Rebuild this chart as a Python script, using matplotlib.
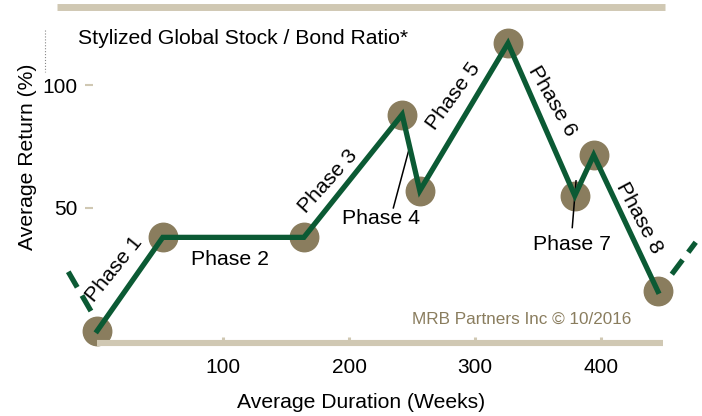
import matplotlib
matplotlib.use('Agg')
import matplotlib.pyplot as plt
from matplotlib.lines import Line2D

plt.rcParams['font.family'] = ['Liberation Sans', 'DejaVu Sans']

# stylized path of the stock / bond ratio
weeks = [0, 52, 164, 242, 256, 326, 379, 394, 445]
ret = [0, 38, 38, 88, 57, 117, 55, 71.5, 16]

# dashed continuation on both ends
lead_x = [-23, -5]
lead_y = [24, 8]
tail_x = [456, 475]
tail_y = [23, 36]

phase_labels = ['Phase 1', 'Phase 2', 'Phase 3', 'Phase 4',
                'Phase 5', 'Phase 6', 'Phase 7', 'Phase 8']
label_x = [13.5, 105, 183, 225, 282.5, 361, 377, 430]
label_y = [25, 29, 61, 45.5, 95.5, 93.5, 35, 46]
label_rot = [51, 0, 48, 0, 54, -60, 0, -62]

xticks = [100, 200, 300, 400]
yticks = [50, 100]

green = '#0b5a34'
khaki = '#8a7d5e'
band = '#d0c8b3'

fig = plt.figure(figsize=(7.02, 4.16), dpi=100)
ax = fig.add_axes([67 / 702, 1 - 343 / 416, 630 / 702, 312 / 416])
ax.set_xlim(-24, 476)
ax.set_ylim(-5, 122)

ax.plot(weeks, ret, 'o', markersize=20.5, color=khaki, clip_on=False, zorder=2)
ax.plot(weeks, ret, '-', color=green, linewidth=3.8, solid_joinstyle='miter',
        clip_on=False, zorder=3)
ax.plot(lead_x, lead_y, '--', color=green, linewidth=3.8, dashes=(3.4, 1.8),
        clip_on=False)
ax.plot(tail_x, tail_y, '--', color=green, linewidth=3.8, dashes=(3.4, 1.8),
        clip_on=False)

for t, x, y, r in zip(phase_labels, label_x, label_y, label_rot):
    ax.text(x, y, t, rotation=r, ha='center', va='center', fontsize=15.3,
            rotation_mode='anchor')

# leader lines for the short phases
ax.plot([247, 235], [73, 50], color='black', linewidth=1.1)
ax.plot([380, 377], [61, 42], color='black', linewidth=1.1)

ax.text(336.5, 4.5, 'MRB Partners Inc \u00a9 10/2016', color=khaki,
        fontsize=12.3, ha='center', va='center')

for s in ['top', 'right']:
    ax.spines[s].set_visible(False)
ax.spines['left'].set_position(('data', -3))
ax.spines['left'].set_visible(False)
ax.spines['bottom'].set_color(band)
ax.spines['bottom'].set_linewidth(4.4)
ax.spines['bottom'].set_bounds(0, 449)
ax.spines['bottom'].set_capstyle('butt')

ax.set_xticks(xticks)
ax.set_yticks(yticks)
ax.tick_params(axis='x', direction='in', length=4.5, width=2.2, color=band,
               labelsize=15, pad=10.5)
ax.tick_params(axis='y', direction='out', length=6, width=1.5, color=band,
               labelsize=15, pad=5.5)

fig.text(78 / 702, 1 - 38 / 416, 'Stylized Global Stock / Bond Ratio*',
         fontsize=15.2, va='center', ha='left')
fig.text(28 / 702, 1 - 157 / 416, 'Average Return (%)', rotation=90,
         fontsize=15.2, va='center', ha='center')
fig.text(361 / 702, 1 - 403 / 416, 'Average Duration (Weeks)',
         fontsize=15.2, va='center', ha='center')

# top band and small dotted mark at the left
fig.add_artist(Line2D([57 / 702, 665 / 702], [1 - 6.5 / 416, 1 - 6.5 / 416],
                      color=band, linewidth=5, solid_capstyle='butt'))
fig.add_artist(Line2D([45 / 702, 45 / 702], [1 - 30 / 416, 1 - 72 / 416],
                      color='#888888', linewidth=0.8, linestyle=':'))

fig.savefig('out.png', dpi=100)
